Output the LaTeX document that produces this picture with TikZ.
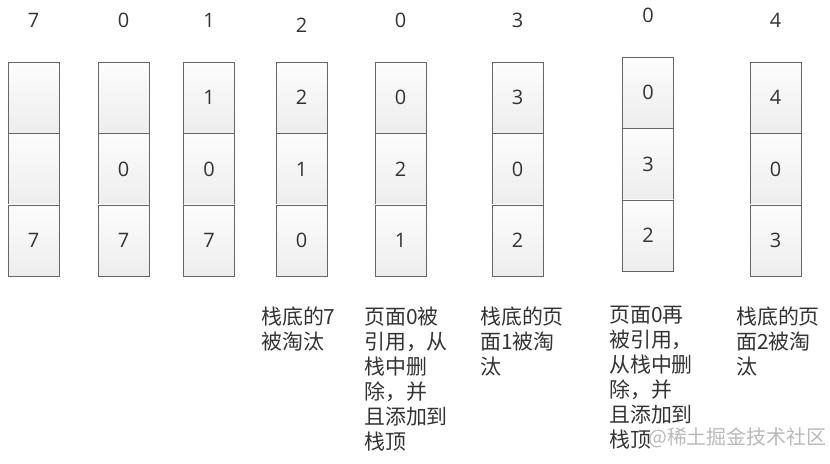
\documentclass[tikz,border=0pt]{standalone}
\usepackage{fontspec}
\setmainfont{Open Sans}
\newfontfamily\cjk{Noto Sans CJK SC}
\begin{document}
\begin{tikzpicture}[x=1bp,y=-1bp,
  cell/.style={draw=gray!80!black, line width=0.9bp, top color=gray!2, bottom color=gray!14,
    minimum width=51bp, minimum height=71.5bp, inner sep=0pt, outer sep=0pt,
    font=\fontsize{20}{20}\selectfont, text=black!80},
  head/.style={font=\fontsize{20}{20}\selectfont, text=black!80, inner sep=0pt},
  note/.style={font=\cjk\fontsize{21}{25}\selectfont, text=black!80, anchor=north west,
    align=left, inner sep=0pt},
  wm/.style={font=\cjk\fontsize{20}{20}\selectfont, text=gray!55, anchor=west, inner sep=0pt}]
\useasboundingbox (0,0) rectangle (830,464);
% columns: index / center x / top y / header y / header / top / mid / bottom
\foreach \i/\x/\t/\hy/\h/\a/\b/\c in {
  1/33.5/62/20/7/{}/{}/7,
  2/123.5/62/20/0/{}/0/7,
  3/209/62/20/1/1/0/7,
  4/301.5/62/25/2/2/1/0,
  5/400.5/62/20/0/0/2/1,
  6/517.5/62/20/3/3/0/2,
  7/648/57/15/0/0/3/2,
  8/775.5/62/20/4/4/0/3}{
  \node[head] (h\i) at (\x,\hy) {\h};
  \node[cell] (c\i a) at (\x,\t+35.75) {\a};
  \node[cell] (c\i b) at (\x,\t+107.25) {\b};
  \node[cell] (c\i c) at (\x,\t+178.75) {\c};
}
\node[note] (t4) at (261,307) {栈底的7\\被淘汰};
\node[note] (t5) at (364,307) {页面0被\\引用，从\\栈中删\\除，并\\且添加到\\栈顶};
\node[note] (t6) at (480,307) {栈底的页\\面1被淘\\汰};
\node[note] (t7) at (609,306) {页面0再\\被引用，\\从栈中删\\除，并\\且添加到\\栈顶};
\node[note] (t8) at (736,307) {栈底的页\\面2被淘\\汰};
\node[wm] (wm) at (648,438) {@稀土掘金技术社区};
\end{tikzpicture}
\end{document}
